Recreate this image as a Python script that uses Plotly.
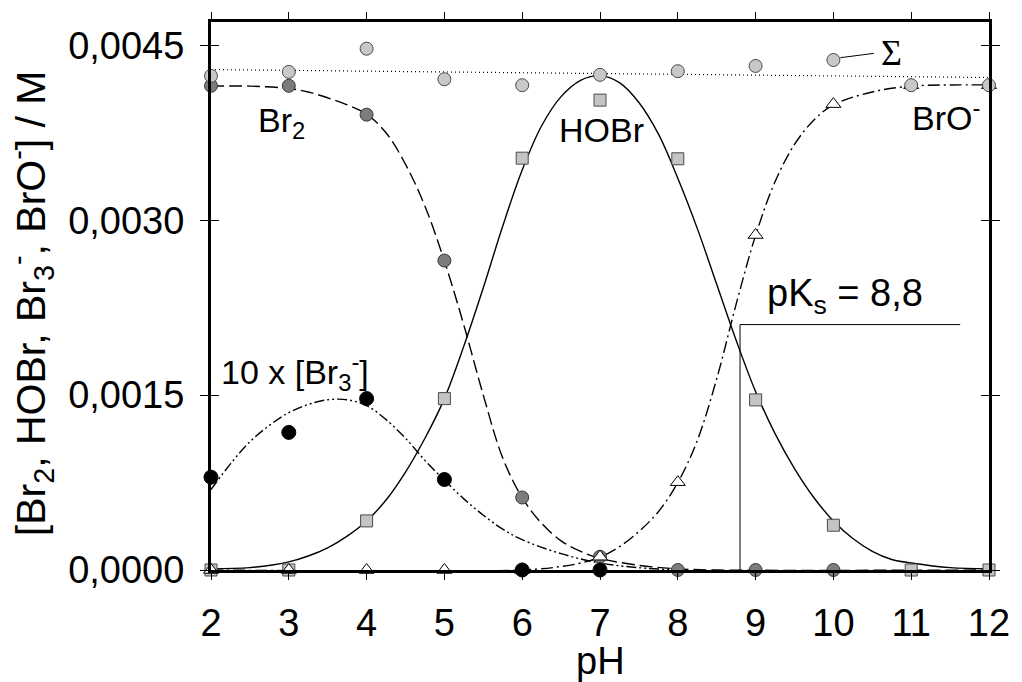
import plotly.graph_objects as go

# Measured concentrations (mol/L) at each pH
ph = [2, 3, 4, 5, 6, 7, 8, 9, 10, 11, 12]
total = [0.004238, 0.004272, 0.004471, 0.004209, 0.004158, 0.004247,
         0.004278, 0.004323, 0.004374, 0.004158, 0.004158]
br2_ph = [2, 3, 4, 5, 6, 7, 8, 9, 10]
br2 = [0.004153, 0.004153, 0.003905, 0.002654, 0.000622, 0.000114,
       0.0, 0.0, 0.0]
hobr = [0.0, 0.0, 0.000421, 0.00147, 0.003532, 0.00403, 0.003527,
        0.001459, 0.000384, 0.0, 0.0]
bro = [0.0, 0.0, 0.0, 0.0, 0.0, 0.000114, 0.000753, 0.002873, 0.003996,
       0.004158, 0.004158]
br3x10_ph = [2, 3, 4, 5, 6, 7]
br3x10 = [0.000796, 0.00118, 0.00147, 0.000776, 0.0, 0.0]

# Model curves (sampled)
hobr_fit_ph = [2.0, 2.5, 3.0, 3.25, 3.5, 3.75, 4.0, 4.25, 4.5, 4.75, 5.0,
               5.25, 5.5, 5.75, 6.0, 6.25, 6.5, 6.75, 7.0, 7.25, 7.5, 7.75,
               8.0, 8.25, 8.5, 8.75, 9.0, 9.25, 9.5, 9.75, 10.0, 10.25, 10.5,
               10.75, 11.0, 11.5, 12.0]
hobr_fit = [0.00001, 0.00002, 0.00007, 0.00012, 0.00019, 0.00029, 0.00042,
            0.0006, 0.00084, 0.00113, 0.00147, 0.00192, 0.00242, 0.00295,
            0.00343, 0.00381, 0.00406, 0.0042, 0.00424, 0.00418, 0.00401,
            0.00374, 0.00336, 0.00293, 0.00245, 0.00197, 0.00153, 0.00117,
            0.00087, 0.00062, 0.00042, 0.00027, 0.00016, 0.00009, 0.00006,
            0.00002, 0.00001]
br2_fit_ph = [2.0, 2.5, 3.0, 3.25, 3.5, 3.75, 4.0, 4.25, 4.5, 4.75, 5.0,
              5.25, 5.5, 5.75, 6.0, 6.25, 6.5, 6.75, 7.0, 7.5, 8.0, 8.5, 12.0]
br2_fit = [0.00415, 0.00415, 0.00413, 0.0041, 0.00405, 0.00399, 0.00391,
           0.00375, 0.00348, 0.00312, 0.00265, 0.0021, 0.0015, 0.00096,
           0.00062, 0.0004, 0.00025, 0.00016, 0.0001, 0.00004, 0.00001, 0.0,
           0.0]
bro_fit_ph = [2.0, 6.0, 6.5, 6.75, 7.0, 7.25, 7.5, 7.75, 8.0, 8.25, 8.5,
              8.75, 9.0, 9.25, 9.5, 9.75, 10.0, 10.5, 11.0, 11.5, 12.0]
bro_fit = [0.0, 0.0, 0.00003, 0.00006, 0.00011, 0.0002, 0.00033, 0.0005,
           0.00075, 0.00111, 0.00164, 0.00228, 0.00287, 0.00333, 0.00365,
           0.00386, 0.00399, 0.0041, 0.00415, 0.00416, 0.00416]
br3_fit_ph = [2.0, 2.25, 2.5, 2.75, 3.0, 3.25, 3.5, 3.75, 4.0, 4.25, 4.5,
              4.75, 5.0, 5.25, 5.5, 5.75, 6.0, 6.5, 7.0, 7.5, 8.0]
br3_fit = [0.00069, 0.00091, 0.0011, 0.00124, 0.00135, 0.00142, 0.00146,
           0.00146, 0.00141, 0.00129, 0.00113, 0.00094, 0.00077, 0.00061,
           0.00047, 0.00035, 0.00026, 0.00014, 0.00006, 0.00002, 0.0]
sum_fit_ph = [2, 12]
sum_fit = [0.004292, 0.004224]

pks = 8.8
pks_level = 0.002105
pks_end = 11.63

y_ticks = [0.0, 0.0015, 0.0030, 0.0045]
x_ticks = [2, 3, 4, 5, 6, 7, 8, 9, 10, 11, 12]
y_max = 0.0047

FONT = "Liberation Sans, Arial, sans-serif"
fig = go.Figure()


def curve(x, y, dash, width=1.4):
    fig.add_trace(go.Scatter(x=x, y=y, mode="lines", line_shape="spline",
                             line=dict(color="black", width=width, dash=dash),
                             hoverinfo="skip", showlegend=False))


curve(sum_fit_ph, sum_fit, "1px,3px", 1.2)
curve(br2_fit_ph, br2_fit, "13px,5px")
curve(hobr_fit_ph, hobr_fit, "solid")
curve(bro_fit_ph, bro_fit, "12px,4px,2px,4px")
curve(br3_fit_ph, br3_fit, "10px,3px,2px,3px,2px,3px")

# pKs marker lines
fig.add_trace(go.Scatter(x=[pks, pks, pks_end], y=[0, pks_level, pks_level],
                         mode="lines", line=dict(color="black", width=1),
                         hoverinfo="skip", showlegend=False))


def points(x, y, symbol, size, fill, edge):
    fig.add_trace(go.Scatter(x=x, y=y, mode="markers", cliponaxis=False,
                             marker=dict(symbol=symbol, size=size, color=fill,
                                         line=dict(color=edge, width=1)),
                             showlegend=False))


points(br2_ph, br2, "circle", 13, "#7c7c7c", "#3a3a3a")
points(ph, hobr, "square", 12, "#c4c4c4", "#4a4a4a")
points(ph, bro, "triangle-up", 13, "white", "black")
points(br3x10_ph, br3x10, "circle", 14, "black", "black")
points(ph, total, "circle", 13, "#c8c8c8", "#4a4a4a")

# overlay axis carrying the inward half of the y ticks
fig.add_trace(go.Scatter(x=[], y=[], yaxis="y2", showlegend=False))

# leader from the sum point to its label
fig.add_trace(go.Scatter(x=[10.09, 10.52], y=[0.004394, 0.004431], mode="lines",
                         line=dict(color="black", width=1), hoverinfo="skip",
                         showlegend=False))

ann = [
    dict(x=2.9, y=0.00384, text="Br<sub>2</sub>", size=34),
    dict(x=7.02, y=0.00377, text="HOBr", size=34),
    dict(x=11.45, y=0.0039, text="BrO<sup>-</sup>", size=34),
    dict(x=3.08, y=0.0017, text="10 x [Br<sub>3</sub><sup>-</sup>]", size=34),
    dict(x=10.15, y=0.00235, text="pK<sub>s</sub> = 8,8", size=38),
]
annotations = [dict(x=a["x"], y=a["y"], xref="x", yref="y", text=a["text"],
                    showarrow=False, xanchor="center", yanchor="middle",
                    font=dict(family=FONT, size=a["size"], color="black"))
               for a in ann]
annotations.append(dict(x=10.75, y=0.004437, xref="x", yref="y", text="Σ",
                        showarrow=False, xanchor="center", yanchor="middle",
                        font=dict(family="Liberation Serif, Times New Roman, serif",
                                  size=36, color="black")))
annotations.append(dict(x=0.5, y=-0.166, xref="paper", yref="paper", text="pH",
                        showarrow=False, xanchor="center", yanchor="middle",
                        font=dict(family=FONT, size=38, color="black")))
annotations.append(dict(x=-0.232, y=0.486, xref="paper", yref="paper",
                        text="[Br<sub>2</sub>, HOBr, Br<sub>3</sub><sup>-</sup>, BrO<sup>-</sup>] / M",
                        textangle=-90, showarrow=False, xanchor="center",
                        yanchor="middle",
                        font=dict(family=FONT, size=41, color="black")))

fig.update_layout(
    width=1022, height=682,
    margin=dict(l=211, r=23, t=19, b=112),
    paper_bgcolor="white", plot_bgcolor="white",
    separators=",.",
    font=dict(family=FONT, size=38, color="black"),
    annotations=annotations,
    xaxis=dict(range=[2, 12], tickvals=x_ticks, ticks="outside", ticklen=7,
               tickwidth=1, tickcolor="black", showline=True, linewidth=3,
               linecolor="black", mirror="allticks", showgrid=False,
               zeroline=False, ticklabelstandoff=10,
               tickfont=dict(family=FONT, size=38, color="black")),
    yaxis=dict(range=[0, y_max], tickvals=y_ticks, tickformat=".4f",
               ticks="outside", ticklen=8, tickwidth=1, tickcolor="black",
               showline=True, linewidth=3, linecolor="black",
               mirror="allticks", showgrid=False, zeroline=False,
               ticklabelstandoff=8,
               tickfont=dict(family=FONT, size=38, color="black")),
    yaxis2=dict(range=[0, y_max], tickvals=y_ticks, overlaying="y",
                side="left", ticks="inside", ticklen=8, tickwidth=1,
                tickcolor="black", mirror="allticks", showline=False,
                showticklabels=False, showgrid=False, zeroline=False),
)

fig.write_html("out.html")
